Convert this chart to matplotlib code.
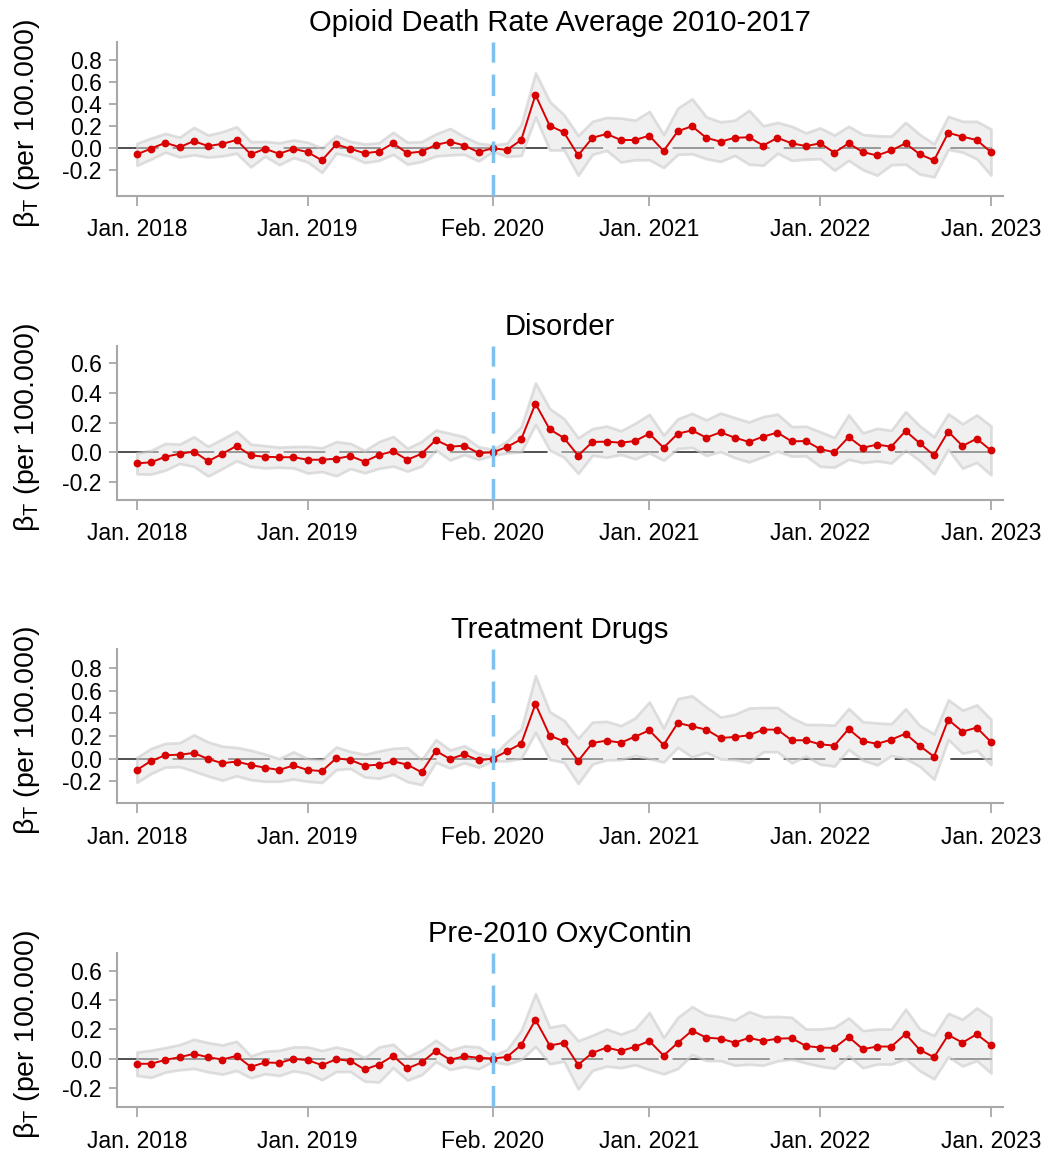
import numpy as np
import matplotlib
matplotlib.use('Agg')
import matplotlib.pyplot as plt

# fonts: Arial-like, subscript in the y label through mathtext
plt.rcParams['font.family'] = ['Liberation Sans', 'DejaVu Sans']
plt.rcParams['mathtext.fontset'] = 'custom'
plt.rcParams['mathtext.rm'] = 'Liberation Sans'
plt.rcParams['axes.unicode_minus'] = False
plt.rcParams['lines.scale_dashes'] = False

# monthly estimates Jan. 2018 .. Jan. 2023 (61 months), Feb. 2020 = reference month
months = np.arange(61)
tick_pos = [0, 12, 25, 36, 48, 60]
tick_lab = ['Jan. 2018', 'Jan. 2019', 'Feb. 2020', 'Jan. 2021', 'Jan. 2022', 'Jan. 2023']
ref_month = 25

titles = ['Opioid Death Rate Average 2010-2017', 'Disorder', 'Treatment Drugs', 'Pre-2010 OxyContin']

death_vals = [-0.055, -0.003, 0.05, 0.01, 0.065, 0.02, 0.04, 0.075, -0.055, -0.005,
              -0.05, -0.005, -0.035, -0.11, 0.035, -0.005, -0.045, -0.03, 0.045, -0.045,
              -0.03, 0.03, 0.06, 0.025, -0.035, 0.0,
              -0.015, 0.075, 0.485, 0.205, 0.145, -0.065, 0.095, 0.13, 0.075, 0.075,
              0.115, -0.025, 0.155, 0.2, 0.095, 0.06, 0.095, 0.1, 0.025, 0.095,
              0.045, 0.02, 0.045, -0.04, 0.045, -0.035, -0.065, -0.02, 0.045, -0.055,
              -0.11, 0.14, 0.105, 0.075, -0.035]
death_ci = [0.1, 0.095, 0.085, 0.09, 0.125, 0.1, 0.11, 0.12, 0.115, 0.067,
            0.1, 0.08, 0.09, 0.11, 0.08, 0.067, 0.085, 0.08, 0.1, 0.1,
            0.09, 0.1, 0.12, 0.08, 0.08, 0.03,
            0.06, 0.14, 0.2, 0.22, 0.16, 0.18, 0.15, 0.15, 0.2, 0.18,
            0.22, 0.15, 0.21, 0.25, 0.19, 0.18, 0.16, 0.245, 0.18, 0.14,
            0.155, 0.12, 0.14, 0.16, 0.155, 0.16, 0.18, 0.13, 0.19, 0.18,
            0.15, 0.15, 0.14, 0.17, 0.21]

disorder_vals = [-0.075, -0.067, -0.03, -0.01, 0.005, -0.06, -0.01, 0.043, -0.02, -0.03,
                 -0.033, -0.033, -0.05, -0.05, -0.043, -0.025, -0.063, -0.018, 0.007, -0.05,
                 -0.01, 0.083, 0.038, 0.045, -0.005, 0.0,
                 0.036, 0.088, 0.328, 0.155, 0.097, -0.022, 0.07, 0.072, 0.065, 0.076,
                 0.126, 0.031, 0.126, 0.148, 0.099, 0.135, 0.099, 0.07, 0.106, 0.133,
                 0.074, 0.076, 0.022, 0.0, 0.103, 0.031, 0.052, 0.038, 0.144, 0.061,
                 -0.02, 0.14, 0.043, 0.092, 0.013]
disorder_ci = [0.07, 0.08, 0.09, 0.065, 0.1, 0.1, 0.1, 0.1, 0.075, 0.075,
               0.068, 0.072, 0.09, 0.08, 0.115, 0.085, 0.075, 0.09, 0.1, 0.077,
               0.083, 0.067, 0.09, 0.06, 0.043, 0.02,
               0.04, 0.085, 0.14, 0.14, 0.13, 0.12, 0.09, 0.105, 0.08, 0.12,
               0.13, 0.085, 0.1, 0.115, 0.12, 0.13, 0.135, 0.135, 0.135, 0.125,
               0.1, 0.1, 0.117, 0.1, 0.15, 0.1, 0.11, 0.11, 0.13, 0.117,
               0.125, 0.12, 0.15, 0.16, 0.165]

treat_vals = [-0.1, -0.02, 0.03, 0.035, 0.05, -0.003, -0.04, -0.026, -0.056, -0.08,
              -0.1, -0.06, -0.1, -0.11, 0.003, -0.012, -0.062, -0.053, -0.024, -0.053,
              -0.12, 0.068, -0.003, 0.038, -0.015, 0.0,
              0.065, 0.132, 0.482, 0.203, 0.153, -0.02, 0.138, 0.159, 0.141, 0.194,
              0.25, 0.12, 0.315, 0.285, 0.256, 0.182, 0.191, 0.206, 0.256, 0.256,
              0.162, 0.162, 0.126, 0.115, 0.262, 0.156, 0.13, 0.168, 0.22, 0.112,
              0.018, 0.344, 0.238, 0.274, 0.147]
treat_ci = [0.11, 0.11, 0.105, 0.105, 0.16, 0.15, 0.15, 0.125, 0.13, 0.12,
            0.1, 0.12, 0.1, 0.1, 0.1, 0.075, 0.1, 0.12, 0.115, 0.15,
            0.11, 0.1, 0.08, 0.075, 0.06, 0.02,
            0.085, 0.13, 0.25, 0.21, 0.185, 0.2, 0.185, 0.17, 0.15, 0.165,
            0.25, 0.15, 0.215, 0.27, 0.2, 0.185, 0.2, 0.24, 0.195, 0.195,
            0.2, 0.14, 0.175, 0.18, 0.18, 0.17, 0.185, 0.14, 0.22, 0.18,
            0.2, 0.175, 0.19, 0.2, 0.2]

oxy_vals = [-0.036, -0.036, -0.009, 0.009, 0.032, 0.009, -0.007, 0.018, -0.057, -0.027,
            -0.03, -0.002, -0.011, -0.045, -0.005, -0.016, -0.075, -0.041, 0.018, -0.068,
            -0.027, 0.052, -0.009, 0.016, 0.005, 0.0,
            0.011, 0.093, 0.264, 0.089, 0.107, -0.043, 0.039, 0.075, 0.052, 0.08,
            0.12, 0.02, 0.107, 0.191, 0.143, 0.136, 0.109, 0.141, 0.12, 0.136,
            0.139, 0.086, 0.075, 0.073, 0.148, 0.064, 0.082, 0.082, 0.168, 0.059,
            0.009, 0.161, 0.109, 0.166, 0.091]
oxy_ci = [0.08, 0.093, 0.084, 0.086, 0.1, 0.1, 0.1, 0.1, 0.075, 0.077,
          0.086, 0.082, 0.09, 0.1, 0.084, 0.073, 0.08, 0.12, 0.08, 0.08,
          0.084, 0.073, 0.066, 0.07, 0.075, 0.02,
          0.05, 0.1, 0.18, 0.125, 0.125, 0.165, 0.12, 0.127, 0.115, 0.122,
          0.195, 0.125, 0.175, 0.164, 0.157, 0.15, 0.155, 0.18, 0.166, 0.152,
          0.143, 0.116, 0.127, 0.14, 0.13, 0.127, 0.12, 0.12, 0.17, 0.143,
          0.148, 0.148, 0.16, 0.18, 0.19]

yticks_big = [-0.2, 0.0, 0.2, 0.4, 0.6, 0.8]
yticks_small = [-0.2, 0.0, 0.2, 0.4, 0.6]

panels = [
    (titles[0], death_vals, death_ci, yticks_big, (-0.434, 0.966), 0.830),
    (titles[1], disorder_vals, disorder_ci, yticks_small, (-0.322, 0.717), 0.5663),
    (titles[2], treat_vals, treat_ci, yticks_big, (-0.394, 0.965), 0.3033),
    (titles[3], oxy_vals, oxy_ci, yticks_small, (-0.334, 0.720), 0.0396),
]

axcol = '#a8a8a8'
fig = plt.figure(figsize=(10.49, 11.53), dpi=100)

for title, vals, ci, yt, ylim, bottom in panels:
    v = np.array(vals)
    hw = np.array(ci)
    ax = fig.add_axes([0.1115, bottom, 0.8447, 0.1336])

    # zero line under the band, band drawn semi transparent over it
    ax.axhline(0, color='#505050', lw=1.4, dashes=(30, 10), zorder=1)
    ax.fill_between(months, v - hw, v + hw, facecolor=(0.886, 0.886, 0.886, 0.5),
                    edgecolor=(0.8, 0.8, 0.8, 0.6), lw=2, zorder=2)
    ax.plot(months, v, color='#d80000', lw=1.4, marker='o', ms=4.6, zorder=4)
    ax.axvline(ref_month, color='#7EC0EE', lw=2.5, dashes=(15.5, 8.6), zorder=5)

    ax.set_xlim(-1.4, 60.85)
    ax.set_ylim(*ylim)
    ax.set_xticks(tick_pos)
    ax.set_xticklabels(tick_lab)
    ax.set_yticks(yt)
    ax.set_yticklabels([f'{t:.1f}' for t in yt])

    for s in ['top', 'right']:
        ax.spines[s].set_visible(False)
    for s in ['left', 'bottom']:
        ax.spines[s].set_color(axcol)
        ax.spines[s].set_linewidth(1.5)
    ax.tick_params(axis='x', length=7, width=1.3, color=axcol, pad=9, labelsize=16.5)
    ax.tick_params(axis='y', length=6, width=1.3, color=axcol, pad=5, labelsize=16.5)

    ax.set_title(title, fontsize=21, pad=8)
    ax.set_ylabel('β$_{\\mathrm{T}}$ (per 100.000)', fontsize=20.5)
    ax.yaxis.set_label_coords(-0.085, 0.47)

fig.savefig('out.png', dpi=100)
